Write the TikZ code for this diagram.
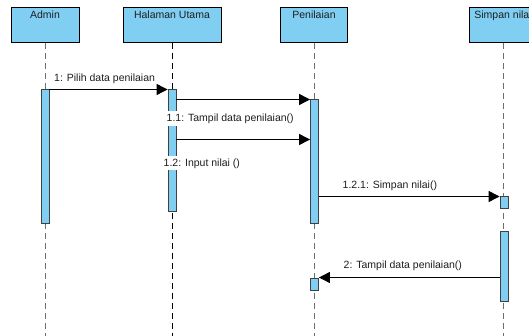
\documentclass[tikz,border=0pt]{standalone}
\usepackage{fontspec}
\setmainfont{Liberation Sans}
\usetikzlibrary{arrows.meta}
\definecolor{boxblue}{RGB}{128,207,243}
\definecolor{linegray}{RGB}{110,110,110}
\definecolor{txt}{RGB}{30,30,30}
\tikzset{
  lifebox/.style={draw=black, line width=0.9pt, fill=boxblue, minimum width=68pt, minimum height=35pt, anchor=north, inner sep=0pt},
  boxlabel/.style={anchor=base, inner sep=0pt, text=txt, font=\fontsize{10.5}{12}\selectfont},
  lifeline/.style={draw=linegray, line width=0.9pt, dash pattern=on 6pt off 4pt},
  lifelinedark/.style={draw=black, line width=0.9pt, dash pattern=on 6pt off 4pt},
  act/.style={draw=black!75, line width=0.8pt, fill=boxblue, minimum width=8pt, inner sep=0pt, anchor=north},
  msg/.style={draw=black, line width=0.9pt, -{Triangle[length=11pt, width=11pt]}},
  msglabel/.style={anchor=base west, fill=white, inner xsep=1pt, inner ysep=2pt, text height=8.5pt, text depth=2pt, xshift=-1pt, text=txt, font=\fontsize{10.5}{12}\selectfont},
}
\begin{document}
\begin{tikzpicture}[x=1pt, y=-1pt]
\useasboundingbox (0,0) rectangle (529,336);
\clip (0,0) rectangle (529,336);
% lifeline heads
\node[lifebox, minimum width=68pt] (admin) at (45,7) {};
\node[boxlabel] (adminl) at (45,19) {Admin};
\node[lifebox, minimum width=98pt] (hal) at (172,7) {};
\node[boxlabel] (hall) at (172,19) {Halaman Utama};
\node[lifebox, minimum width=67pt] (pen) at (314,7) {};
\node[boxlabel] (penl) at (314,19) {Penilaian};
\node[lifebox, minimum width=67pt] (sim) at (503,7) {};
\node[boxlabel] (siml) at (503,19) {Simpan nilai};
% bottom ends
\coordinate (adminEnd) at (45,340);
\coordinate (halEnd) at (172,340);
\coordinate (penEnd) at (314,340);
\coordinate (simEnd) at (503,340);
\draw[lifeline] (admin.south) -- (adminEnd);
\draw[lifelinedark] (hal.south) -- (halEnd);
\draw[lifeline] (pen.south) -- (penEnd);
\draw[lifeline] (sim.south) -- (simEnd);
% activations
\node[act, minimum height=134pt] (a1) at (45,89.5) {};
\node[act, minimum height=121.5pt] (h1) at (172,89.5) {};
\node[act, minimum height=123.5pt] (p1) at (314.5,99.5) {};
\node[act, minimum height=12pt] (s1) at (504,196.5) {};
\node[act, minimum height=70pt] (s2) at (504,231) {};
\node[act, minimum height=12pt] (p2) at (314.5,277.5) {};
% messages
\coordinate (m12a) at (172,139.5);
\draw[msg] (a1.north east) -- (h1.north west);
\draw[msg] (h1.east |- p1.north) -- (p1.north west);
\draw[msg] (h1.east |- m12a) -- (p1.west |- m12a);
\draw[msg] (p1.east |- s1.north) -- (s1.north west);
\draw[msg] (s2.west |- p2.north) -- (p2.north east);
% labels
\node[msglabel] (l1) at (54,82) {1: Pilih data penilaian};
\node[msglabel] (l11) at (166.5,122) {1.1: Tampil data penilaian()};
\node[msglabel] (l12) at (163.5,166.5) {1.2: Input nilai ()};
\node[msglabel] (l121) at (342.5,188.5) {1.2.1: Simpan nilai()};
\node[msglabel] (l2) at (343.5,268) {2: Tampil data penilaian()};
\end{tikzpicture}
\end{document}
